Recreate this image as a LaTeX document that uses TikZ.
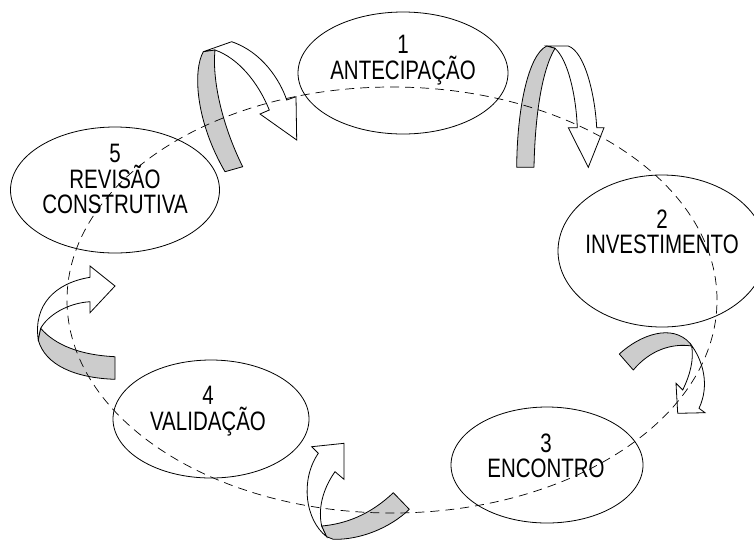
\documentclass[tikz,border=0pt]{standalone}
\usepackage{fontspec}
\setmainfont{Liberation Sans}
\usetikzlibrary{shapes.geometric}

\tikzset{
  etapa/.style={draw, ellipse, line width=0.8pt, inner sep=0pt},
  rotulo/.style={align=center, font=\fontsize{20.5}{19.5}\selectfont, yscale=1.3, transform shape},
  ciclo/.style={draw, line width=0.7pt, dash pattern=on 9pt off 6pt},
  fita/.style={draw, line width=0.8pt, fill=black!20!white, line join=round},
  seta/.style={draw, line width=0.8pt, fill=white, line join=miter},
}

\begin{document}
\begin{tikzpicture}[x=1pt,y=-1pt]

\useasboundingbox (0,0) rectangle (754,542);

\draw[seta] (203.3,51.7) -- (231.7,41.7) .. controls (262,52) and (280,80) .. (286.7,100) -- (296,96.7) -- (296.7,140) -- (260,114) -- (269.3,110) .. controls (258,82) and (238,58) .. (215,50) -- cycle;
\draw[fita] (203.3,51.7) .. controls (193,70) and (195,120) .. (225,171.7) -- (242.7,166.7) .. controls (222,125) and (212,80) .. (215,50) -- cycle;

\draw[seta] (546.7,46) -- (568.3,46) .. controls (585,52) and (595,95) .. (596.7,127.7) -- (604,127.7) -- (588.3,167.3) -- (568.3,127.7) -- (577.3,127.7) .. controls (576,95) and (568,60) .. (555,48.3) -- cycle;
\draw[fita] (546.7,46) .. controls (528,55) and (517,110) .. (516.7,167.3) -- (534,167.3) .. controls (535,115) and (542,70) .. (555,48.3) -- cycle;

\draw[seta] (690,343.3) .. controls (703,360) and (710,385) .. (699,408.3) -- (705,412.7) -- (677.7,413.3) -- (676,383.3) -- (682.7,390) .. controls (690,375) and (694,360) .. (691.7,346) -- cycle;
\draw[fita] (619.3,354) .. controls (640,335) and (672,323) .. (690,343.3) -- (691.7,346) .. controls (672,343) and (650,350) .. (633.3,370) -- cycle;

\draw[seta] (326.7,536.7) .. controls (305,520) and (300,480) .. (318.3,453.3) -- (311.7,446.7) -- (344,443.3) -- (344,479.3) -- (335,471.7) .. controls (322,490) and (318,510) .. (321.7,526) -- cycle;
\draw[fita] (321.7,526) .. controls (345,524) and (370,515) .. (393.3,492.7) -- (409.3,509.3) .. controls (390,528) and (360,540) .. (333.3,539.3) -- (326.7,536.7) -- cycle;

\draw[seta] (38.3,340) .. controls (33,305) and (55,283) .. (90,277.3) -- (90,266) -- (115,286) -- (90,312.7) -- (90,301.7) .. controls (68,303) and (48,315) .. (40.7,328.3) -- cycle;
\draw[fita] (40.7,328.3) .. controls (55,345) and (80,355) .. (115,356.7) -- (115,379.3) .. controls (75,378) and (45,365) .. (38.3,340) -- cycle;

\draw[ciclo] (392,300) ellipse [x radius=325pt, y radius=213pt];

\node[etapa, minimum width=210pt, minimum height=122pt] (antecipacao) at (403,73) {};
\node[etapa, minimum width=208pt, minimum height=152pt] (investimento) at (662,251) {};
\node[etapa, minimum width=192pt, minimum height=116pt] (encontro) at (547,465) {};
\node[etapa, minimum width=196pt, minimum height=118pt] (validacao) at (211,419) {};
\node[etapa, minimum width=209pt, minimum height=126pt] (revisao) at (115,190) {};

\node[rotulo] (t1) at (403,60) {1\\ANTECIPAÇÃO};
\node[rotulo] (t2) at (662,232) {2\\INVESTIMENTO};
\node[rotulo] (t3) at (546,456) {3\\ENCONTRO};
\node[rotulo] (t4) at (208,411) {4\\VALIDAÇÃO};
\node[rotulo] (t5) at (115,179) {5\\REVISÃO\\CONSTRUTIVA};

\end{tikzpicture}
\end{document}
